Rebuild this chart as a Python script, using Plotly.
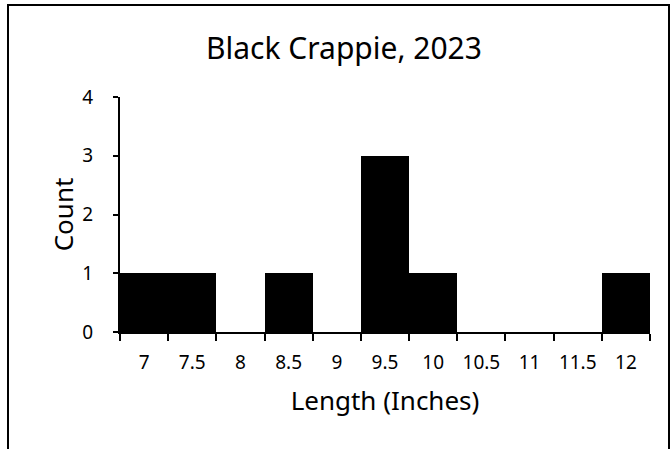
import plotly.graph_objects as go

categories = ["7", "7.5", "8", "8.5", "9", "9.5", "10", "10.5", "11", "11.5", "12"]
counts = [1, 1, 0, 1, 0, 3, 1, 0, 0, 0, 1]
y_ticks = [0, 1, 2, 3, 4]

FONT = "Noto Sans"

fig = go.Figure(go.Bar(
    x=categories, y=counts,
    marker=dict(color="black", line=dict(color="black", width=0)),
))

fig.update_layout(
    width=671, height=449,
    margin=dict(l=120, r=21, t=97, b=117),
    paper_bgcolor="white", plot_bgcolor="white",
    bargap=0,
    showlegend=False,
    font=dict(family=FONT, color="black"),
    title=dict(text="Black Crappie, 2023", x=344 / 671, xanchor="center",
               y=1 - 48 / 449, yanchor="middle",
               font=dict(family=FONT, size=30, color="black")),
)

fig.update_xaxes(
    type="category", tickson="boundaries",
    showline=True, linecolor="black", linewidth=2,
    ticks="outside", ticklen=7, tickwidth=2, tickcolor="black",
    tickfont=dict(size=19), ticklabelstandoff=12, showgrid=False,
    title=dict(text="Length (Inches)", font=dict(size=26), standoff=18),
)
fig.update_yaxes(
    range=[0, 4], tickvals=y_ticks,
    showline=True, linecolor="black", linewidth=2,
    ticks="outside", ticklen=5, tickwidth=2, tickcolor="black",
    tickfont=dict(size=19), ticklabelstandoff=16, showgrid=False, zeroline=False,
    title=dict(text="Count", font=dict(size=26), standoff=1),
)

# outer frame
fig.add_shape(type="rect", xref="paper", yref="paper",
              x0=(8 - 120) / 530, x1=(669 - 120) / 530,
              y0=(332 - 480) / 235, y1=(332 - 5) / 235,
              line=dict(color="black", width=2), fillcolor="rgba(0,0,0,0)")

fig.write_html("out.html", config={"displayModeBar": False},
               post_script="document.body.style.margin='0';")
